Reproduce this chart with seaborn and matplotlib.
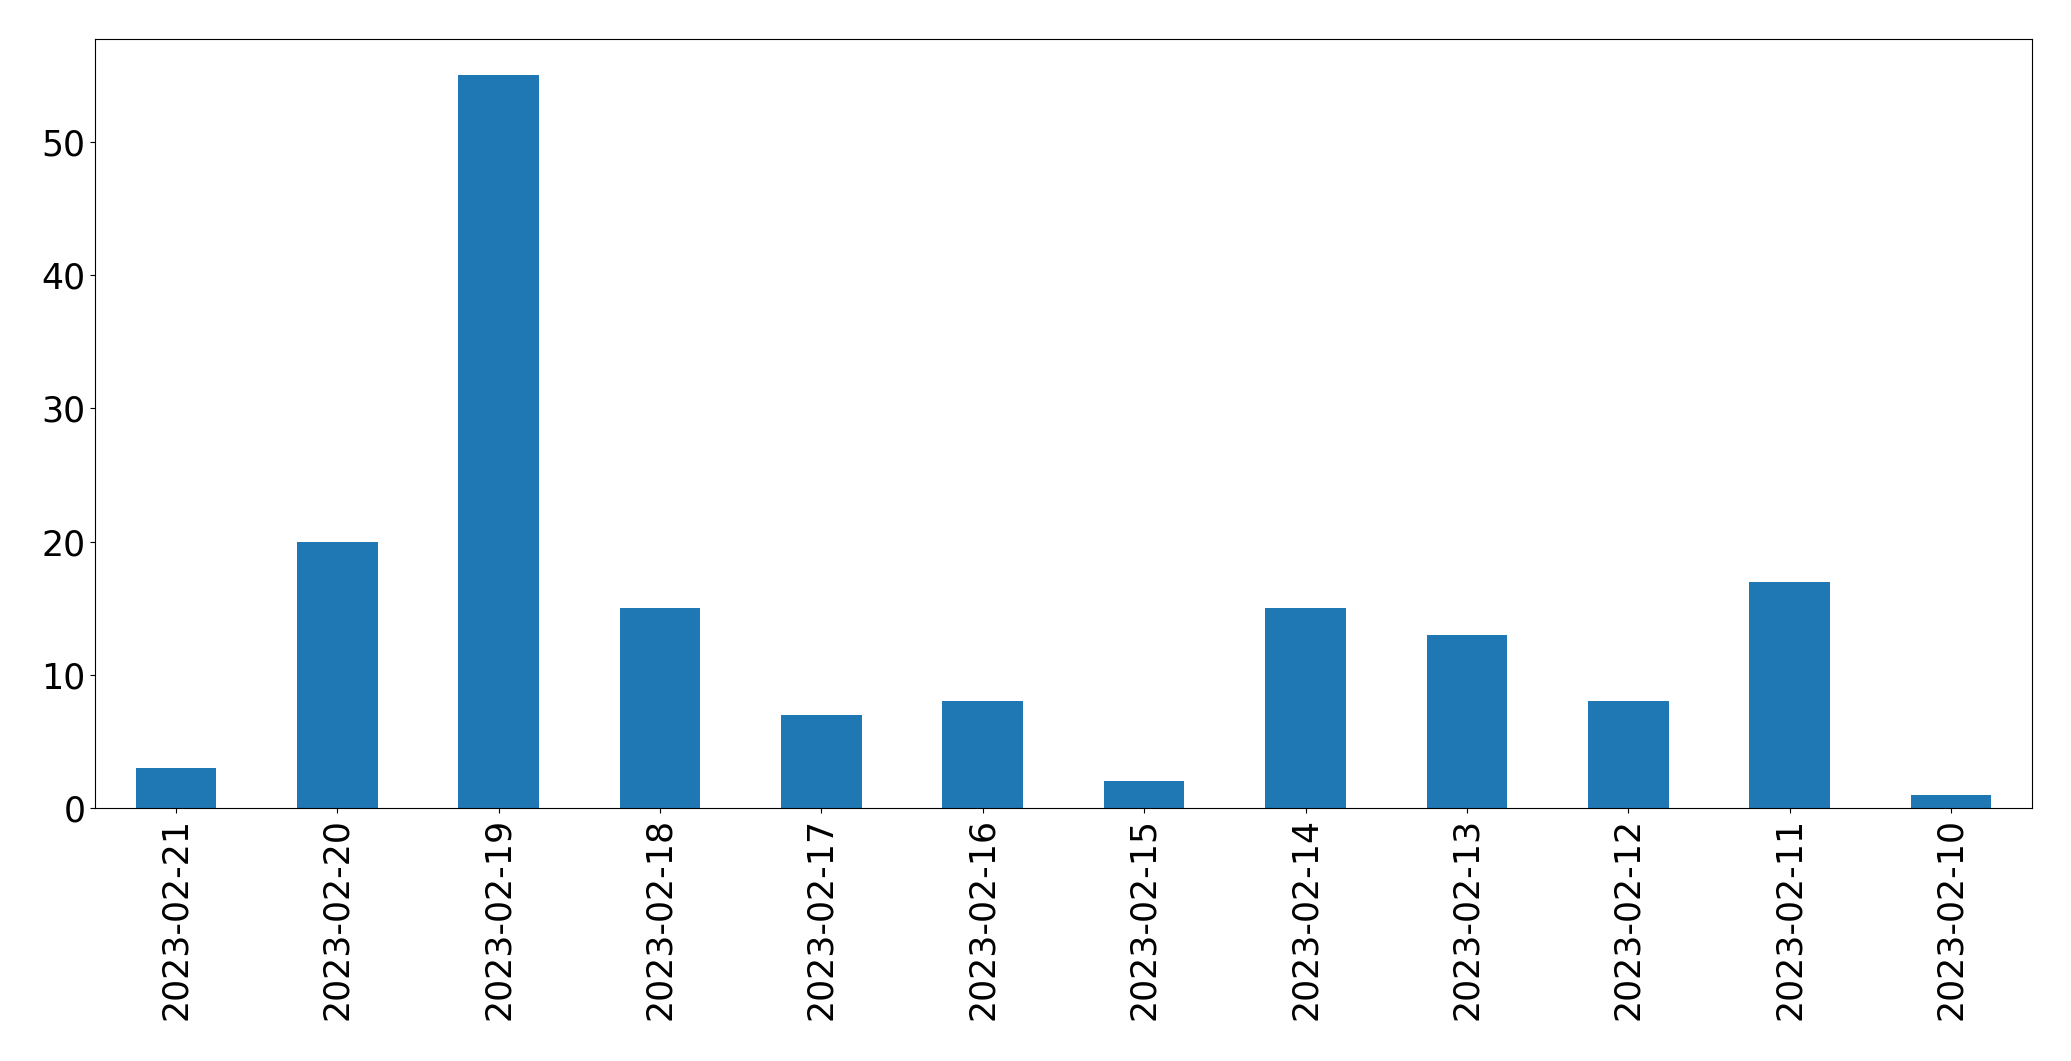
import pandas as pd
import seaborn as sns
import matplotlib
matplotlib.use('Agg')
import matplotlib.pyplot as plt

dates = ['2023-02-21', '2023-02-20', '2023-02-19', '2023-02-18',
         '2023-02-17', '2023-02-16', '2023-02-15', '2023-02-14',
         '2023-02-13', '2023-02-12', '2023-02-11', '2023-02-10']
counts = [3, 20, 55, 15, 7, 8, 2, 15, 13, 8, 17, 1]


def main():
    data = pd.DataFrame({'date': dates, 'count': counts})
    fig, ax = plt.subplots(figsize=(20.71, 10.61), dpi=100)
    sns.barplot(data=data, x='date', y='count', order=dates, ax=ax,
                color='#1f77b4', saturation=1, width=0.5)
    ax.set_xlim(-0.5, len(dates) - 0.5)
    ax.set_ylim(0, max(counts) * 1.05)
    ax.set_xlabel('')
    ax.set_ylabel('')
    ax.tick_params(axis='x', labelrotation=90, labelsize=25)
    ax.tick_params(axis='y', labelsize=25)
    plt.subplots_adjust(left=0.046, right=0.981, top=0.9635, bottom=0.2385)
    fig.savefig('out.png', dpi=100)


if __name__ == '__main__':
    main()
